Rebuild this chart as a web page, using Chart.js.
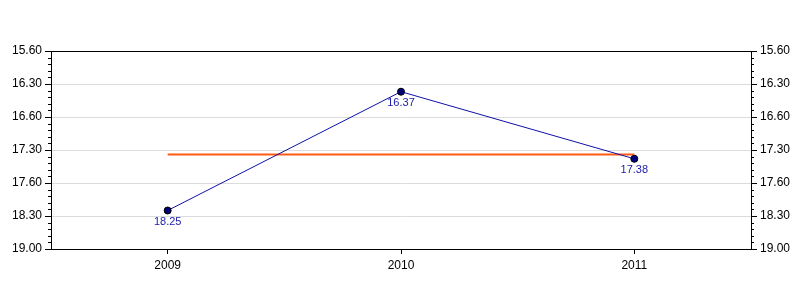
<!DOCTYPE html>
<html lang="en">
<head>
    <meta charset="UTF-8">
    <title>Times by year</title>
    <script src="https://cdn.jsdelivr.net/npm/chart.js"></script>
    <style>
        body { margin: 0; background: #fff; }
        #wrap { width: 800px; height: 300px; }
    </style>
</head>
<body>
    <div id="wrap"><canvas id="timeChart"></canvas></div>
    <script>
        // values are times written as min.sec, axis works in seconds
        const years = ['2009', '2010', '2011'];
        const times = ['18.25', '16.37', '17.38'];
        const refLine = [1054, 1054, 1054];   // orange reference level, in seconds
        const yTickLabels = ['15.60', '16.30', '16.60', '17.30', '17.60', '18.30', '19.00'];
        const yMin = 960, yMax = 1140, yStep = 30, minorStep = 6;

        function toSec(t) {
            const p = t.split('.');
            return parseInt(p[0]) * 60 + parseInt(p[1]);
        }
        const timeSec = times.map(toSec);

        function tickLabel(v) {
            const i = Math.round((v - yMin) / yStep);
            return yTickLabels[i] || '';
        }

        const extras = {
            id: 'extras',
            afterDraw(chart) {
                const c = chart.ctx, a = chart.chartArea, y = chart.scales.y;
                c.save();
                // minor ticks on both sides
                c.strokeStyle = '#000';
                c.lineWidth = 1;
                c.beginPath();
                for (let v = yMin; v <= yMax; v += minorStep) {
                    if ((v - yMin) % yStep === 0) continue;
                    const py = Math.round(y.getPixelForValue(v)) + 0.5;
                    c.moveTo(a.left - 3, py); c.lineTo(a.left, py);
                    c.moveTo(a.right, py); c.lineTo(a.right + 3, py);
                }
                c.stroke();
                // box
                c.strokeRect(Math.round(a.left) + 0.5, Math.round(a.top) + 0.5,
                    Math.round(a.right - a.left), Math.round(a.bottom - a.top));
                // value labels under the points
                c.fillStyle = '#1a1aaa';
                c.font = '11px Arial, "Liberation Sans", sans-serif';
                c.textAlign = 'center';
                c.textBaseline = 'middle';
                chart.getDatasetMeta(0).data.forEach((pt, i) => {
                    c.fillText(times[i], pt.x, pt.y + 11);
                });
                c.restore();
            }
        };

        const axisFont = { family: 'Arial, "Liberation Sans", sans-serif', size: 12 };

        new Chart(document.getElementById('timeChart'), {
            type: 'line',
            data: {
                labels: years,
                datasets: [{
                    data: timeSec,
                    borderColor: '#1010a8',
                    borderWidth: 1,
                    pointRadius: 3.5,
                    pointBackgroundColor: '#00007a',
                    pointBorderColor: '#000',
                    pointBorderWidth: 1,
                    tension: 0
                }, {
                    data: refLine,
                    borderColor: '#ff5a14',
                    borderWidth: 2,
                    pointRadius: 0,
                    tension: 0
                }]
            },
            options: {
                responsive: true,
                maintainAspectRatio: false,
                animation: false,
                layout: { padding: { top: 51, bottom: 0, left: 0, right: 0 } },
                plugins: { legend: { display: false }, tooltip: { enabled: false } },
                scales: {
                    x: {
                        offset: true,
                        border: { color: '#000' },
                        grid: { offset: false, drawOnChartArea: false, tickLength: 5, tickColor: '#000' },
                        ticks: { color: '#000', font: axisFont, padding: 4 },
                        afterFit(s) { s.height = 51; }
                    },
                    y: {
                        position: 'left',
                        reverse: true,
                        min: yMin, max: yMax,
                        border: { color: '#000' },
                        grid: { color: '#dcdcdc', tickLength: 6, tickColor: '#000' },
                        ticks: { stepSize: yStep, color: '#000', font: axisFont, padding: 3, callback: tickLabel },
                        afterFit(s) { s.width = 51; }
                    },
                    y2: {
                        position: 'right',
                        reverse: true,
                        min: yMin, max: yMax,
                        border: { color: '#000' },
                        grid: { drawOnChartArea: false, tickLength: 6, tickColor: '#000' },
                        ticks: { stepSize: yStep, color: '#000', font: axisFont, padding: 3, callback: tickLabel },
                        afterFit(s) { s.width = 49; }
                    }
                }
            },
            plugins: [extras]
        });
    </script>
</body>
</html>
